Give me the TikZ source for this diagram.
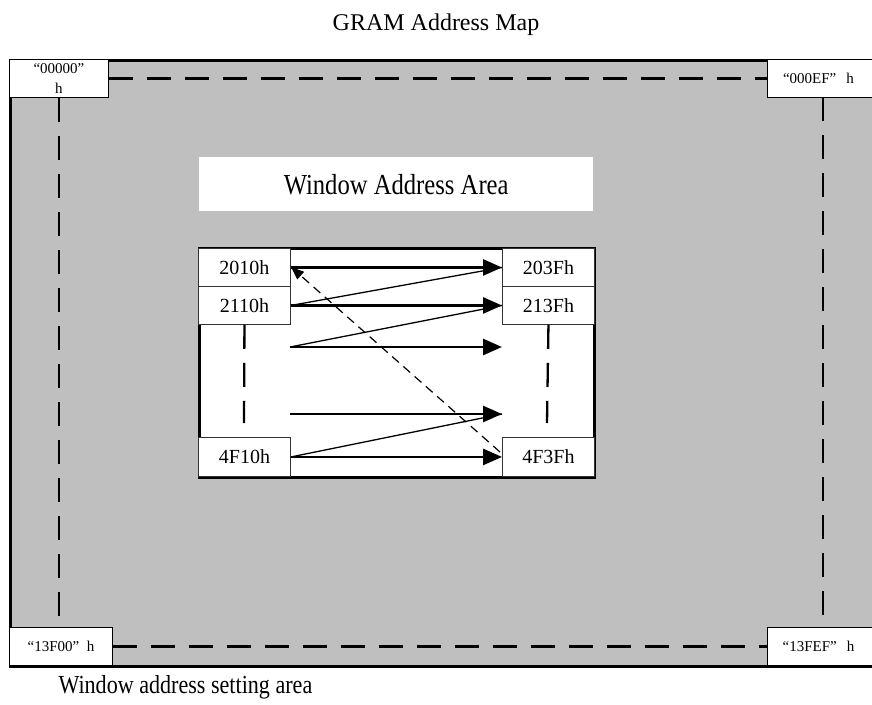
\documentclass[tikz,border=0pt]{standalone}
\usepackage{fontspec}
\setmainfont{Liberation Serif}
\newfontfamily\narrowfont{Liberation Serif}[FakeStretch=0.85]
\usetikzlibrary{arrows.meta,calc}
\begin{document}
\begin{tikzpicture}[x=1pt,y=-1pt,
  corner/.style={draw=black,line width=0.9pt,fill=white,inner sep=0pt,anchor=north west,font=\fontsize{15}{20}\selectfont,align=center},
  addr/.style={draw=black!80,line width=0.9pt,fill=white,inner sep=0pt,anchor=north west,minimum width=92pt,font=\fontsize{20}{22}\selectfont},
  outerdash/.style={line width=2.8pt,dash pattern=on 24pt off 14pt},
  innerdash/.style={line width=2.3pt,dash pattern=on 24pt off 14pt},
  rowarrow/.style={line width=2.7pt,-{Triangle[length=19pt,width=16pt]}},
  diag/.style={line width=1.3pt},
  backarrow/.style={line width=1.2pt,dash pattern=on 9pt off 6pt,-{Triangle[length=13pt,width=10pt]}}
]
\useasboundingbox (0,0) rectangle (872,704);
\clip (0,0) rectangle (872,704);

\node[font=\fontsize{24}{28}\selectfont] (title) at (436,25) {GRAM Address Map};

% outer map
\node[draw=black,line width=2.7pt,fill=black!25,anchor=north west,inner sep=0pt,minimum width=866pt,minimum height=606pt] (map) at (9,59) {};

% corner boxes
\node[corner,minimum width=99pt,minimum height=38pt] (tl) at (9,59) {“00000”\\h};
\node[corner,minimum width=108pt,minimum height=38pt,text width=100pt] (tr) at (767,59) {\hspace*{-6pt}“000EF”\ \ h};
\node[corner,minimum width=103pt,minimum height=38pt] (bl) at (9,627) {“13F00”\ \ h};
\node[corner,minimum width=108pt,minimum height=38pt,text width=100pt] (br) at (767,627) {\hspace*{-6pt}“13FEF”\ \ h};

\draw[outerdash] (tl.east) -- (tr.west);
\draw[outerdash] (bl.east) -- (br.west);
\draw[outerdash] (tl.south) -- (tl.south |- bl.north);
\coordinate (trs) at (823,97);
\draw[outerdash] (trs) -- (trs |- br.north);

% window address area label
\node[fill=white,anchor=north west,inner sep=0pt,minimum width=394pt,minimum height=54pt,font=\narrowfont\fontsize{29}{32}\selectfont] (waa) at (199,157) {Window Address Area};

% window rectangle
\node[draw=black,line width=2.5pt,fill=white,anchor=north west,inner sep=0pt,minimum width=395pt,minimum height=229pt] (win) at (198,247) {};

% address boxes
\node[addr,minimum height=38pt] (a2010) at (198,248) {2010h};
\node[addr,minimum height=38pt] (a2110) at (198,286) {2110h};
\node[addr,minimum height=39pt] (a4F10) at (198,437) {4F10h};
\node[addr,minimum height=38pt] (a203F) at (502,248) {203Fh};
\node[addr,minimum height=38pt] (a213F) at (502,286) {213Fh};
\node[addr,minimum height=39pt] (a4F3F) at (502,437) {4F3Fh};

\coordinate (r3s) at (290,347);
\coordinate (r3e) at (502,347);
\coordinate (r4s) at (290,414);
\coordinate (r4e) at (502,414);

% diagonals
\draw[diag] (a2110.east) -- (a203F.west);
\draw[diag] (r3s) -- (a213F.west);
\draw[diag] (a4F10.east) -- (r4e);

% row arrows
\draw[rowarrow] (a2010.east) -- (a203F.west);
\draw[rowarrow] (a2110.east) -- (a213F.west);
\draw[rowarrow] (r3s) -- (r3e);
\draw[rowarrow] (r4s) -- (r4e);
\draw[rowarrow] (a4F10.east) -- (a4F3F.west);

% return arrow
\coordinate (bs) at (500,452);
\coordinate (be) at (291,267);
\draw[backarrow] (bs) -- (be);

% inner vertical dashes
\coordinate (le) at (244,423);
\coordinate (re) at (547,423);
\draw[innerdash] (a2110.south) -- (le);
\draw[innerdash] (a213F.south) -- (re);

\node[anchor=base west,font=\narrowfont\fontsize{26}{28}\selectfont] (cap) at (55,693) {Window address setting area};
\end{tikzpicture}
\end{document}
